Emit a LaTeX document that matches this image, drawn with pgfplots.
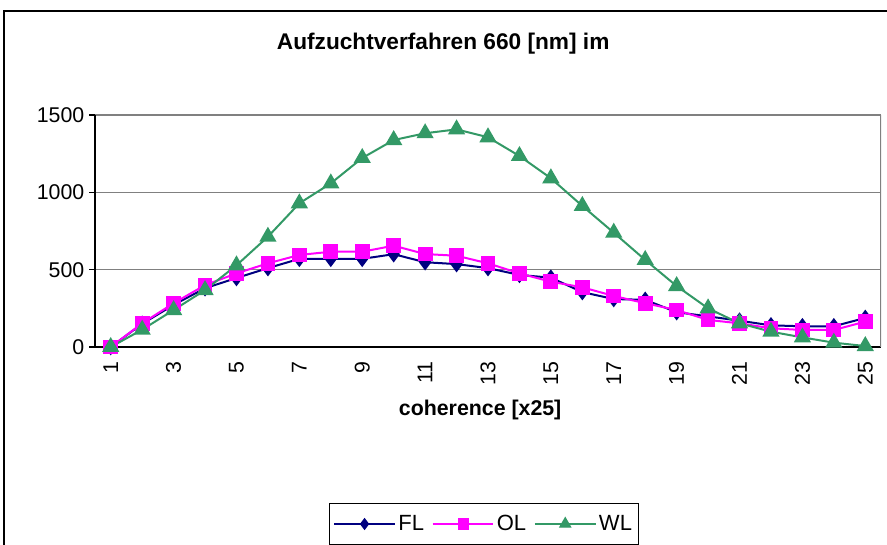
\documentclass[border=0pt]{standalone}
\usepackage{pgfplots}
\pgfplotsset{compat=1.18}
\usepackage{fontspec}
\setmainfont{Liberation Sans}

\definecolor{flblue}{RGB}{0,0,128}
\definecolor{olpink}{RGB}{255,0,255}
\definecolor{wlgreen}{RGB}{51,153,102}

\begin{document}
\begin{tikzpicture}[x=0.75pt,y=0.75pt]
  % page = 887 x 545 px, origin bottom left
  \useasboundingbox (0,0) rectangle (887,545);
  \begin{scope}
    \clip (0,0) rectangle (887,545);
    \draw[line width=1.1pt] (4,-10) -- (4,534) -- (900,534);
  \end{scope}
  \begin{axis}[
      at={(71.25pt,148.5pt)}, anchor=south west,
      scale only axis,
      width=589.5pt, height=174pt,
      xmin=0.5, xmax=25.5,
      ymin=0, ymax=1500,
      axis x line*=bottom, axis y line*=left,
      axis line style={black, line width=1.2pt},
      xtick={1,3,...,25},
      major x tick style={draw=none},
      extra x ticks={0.5,1.5,...,25.5},
      extra x tick labels={},
      extra x tick style={major tick length=4.5pt, tick align=outside,
        tick style={black, line width=0.8pt}, grid=none},
      xticklabel style={rotate=90, anchor=east, xshift=-3pt,
        font=\fontsize{16}{17}\selectfont},
      ytick={0,500,1000,1500},
      ymajorgrids,
      major grid style={gray, line width=1pt},
      ytick style={black, line width=0.8pt},
      tick align=outside, major tick length=4.5pt,
      yticklabel style={font=\fontsize{16}{17}\selectfont},
      /pgf/number format/assume math mode=true,
      /pgf/number format/set thousands separator={},
      xlabel={\textbf{coherence [x25]}},
      xlabel style={at={(axis description cs:0.49,-0.272)}, anchor=center,
        font=\fontsize{16}{17}\selectfont},
      title={\textbf{Aufzuchtverfahren 660 [nm] im}},
      title style={at={(axis description cs:0.443,1.272)}, anchor=center,
        font=\fontsize{17}{18}\selectfont},
      legend columns=3,
      legend style={at={(axis description cs:0.495,-0.763)}, anchor=center,
        draw=black, line width=0.8pt, font=\fontsize{16.5}{17}\selectfont,
        /tikz/every even column/.append style={column sep=4pt},
        inner xsep=3pt, inner ysep=7pt},
      legend image code/.code={%
        \draw[mark repeat=2, mark phase=2]
          plot coordinates {(0cm,0cm) (0.8cm,0cm) (1.6cm,0cm)};},
      legend image post style={line width=1.1pt, mark options={scale=0.75}},
      every axis plot/.append style={line width=1.5pt},
    ]
    \addplot[flblue, mark=diamond*, mark size=5pt]
      coordinates {(1,0) (2,150) (3,272) (4,380) (5,446) (6,510) (7,570)
        (8,570) (9,570) (10,600) (11,548) (12,536) (13,510) (14,466)
        (15,448) (16,355) (17,310) (18,305) (19,225) (20,198) (21,170)
        (22,140) (23,134) (24,134) (25,188)};
    \addplot[olpink, mark=square*, mark size=4.8pt]
      coordinates {(1,0) (2,153) (3,283) (4,400) (5,476) (6,541) (7,595)
        (8,616) (9,616) (10,655) (11,601) (12,590) (13,541) (14,476)
        (15,422) (16,386) (17,330) (18,283) (19,239) (20,175) (21,153)
        (22,121) (23,110) (24,110) (25,164)};
    \addplot[wlgreen, mark=triangle*, mark size=6pt]
      coordinates {(1,0) (2,112) (3,239) (4,368) (5,528) (6,713) (7,929)
        (8,1058) (9,1222) (10,1338) (11,1382) (12,1407) (13,1356) (14,1235)
        (15,1091) (16,912) (17,739) (18,563) (19,394) (20,250) (21,153)
        (22,99) (23,62) (24,28) (25,6)};
    \legend{FL,OL,WL}
    \draw[gray, line width=1pt] (rel axis cs:1,0) -- (rel axis cs:1,1);
  \end{axis}
\end{tikzpicture}
\end{document}
